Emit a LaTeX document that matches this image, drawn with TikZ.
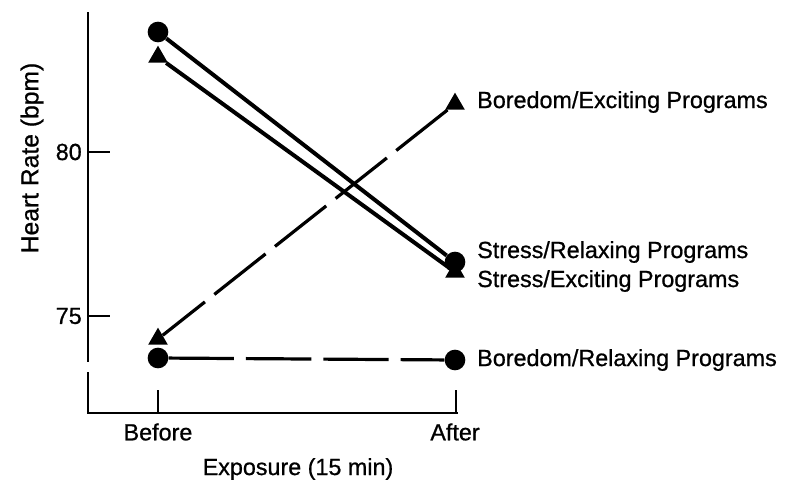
\documentclass[tikz,border=0pt]{standalone}
\usepackage{fontspec}
\setmainfont{Liberation Sans}
\newfontfamily\plotfont{Liberation Sans}[FakeBold=0.8]
\usetikzlibrary{shapes.geometric}

\begin{document}
\begin{tikzpicture}[x=0.75pt, y=-0.75pt,
    font=\plotfont\fontsize{17.5}{20}\selectfont,
    axis/.style={line width=2.2pt},
    dot/.style={circle, fill, inner sep=0pt, minimum size=15.5pt},
    tri/.style={regular polygon, regular polygon sides=3, fill, inner sep=0pt, minimum size=17pt},
    solidline/.style={line width=3pt},
    dashline/.style={line width=2.4pt, dash pattern=on 49pt off 9pt},
    lbl/.style={anchor=west, inner sep=0pt}]
    \useasboundingbox (0,0) rectangle (793,482);
    % axes
    \coordinate (ytop) at (88,12);
    \coordinate (ybreak) at (88,362);
    \coordinate (yres) at (88,372);
    \coordinate (origin) at (88,413);
    \coordinate (xend) at (458,413);
    \draw[axis] (ytop) -- (ybreak);
    \draw[axis] (yres) -- (origin) -- (xend);
    \draw[axis] (88,152) -- (110,152);
    \draw[axis] (88,316) -- (110,316);
    \draw[axis] (158,390) -- (158,413);
    \draw[axis] (456,390) -- (456,413);
    \node[anchor=east, inner sep=0pt] (t80) at (82,152) {80};
    \node[anchor=east, inner sep=0pt] (t75) at (82,316) {75};
    \node[rotate=90, font=\plotfont\fontsize{18.5}{20}\selectfont] (ylab) at (32,158) {Heart Rate (bpm)};
    \node (before) at (158,432) {Before};
    \node (after) at (455,432) {After};
    \node (xlab) at (298,469) {Exposure (15 min)};
    % data points
    \node[dot] (srb) at (158,32) {};
    \node[dot] (sra) at (455,262) {};
    \node[tri] (seb) at (158,57) {};
    \node[tri] (sea) at (455,272) {};
    \node[tri] (beb) at (158,339) {};
    \node[tri] (bea) at (455,104) {};
    \node[dot] (brb) at (158,358) {};
    \node[dot] (bra) at (455,360) {};
    \draw[solidline] (srb) -- (sra);
    \draw[solidline] (seb) -- (sea);
    \draw[dashline] (bea) -- (beb);
    \draw[dashline] (brb) -- (bra);
    % labels
    \node[lbl] (bel) at (477,102) {Boredom/Exciting Programs};
    \node[lbl] (srl) at (477,252) {Stress/Relaxing Programs};
    \node[lbl] (sel) at (477,281) {Stress/Exciting Programs};
    \node[lbl] (brl) at (477,360) {Boredom/Relaxing Programs};
\end{tikzpicture}
\end{document}
